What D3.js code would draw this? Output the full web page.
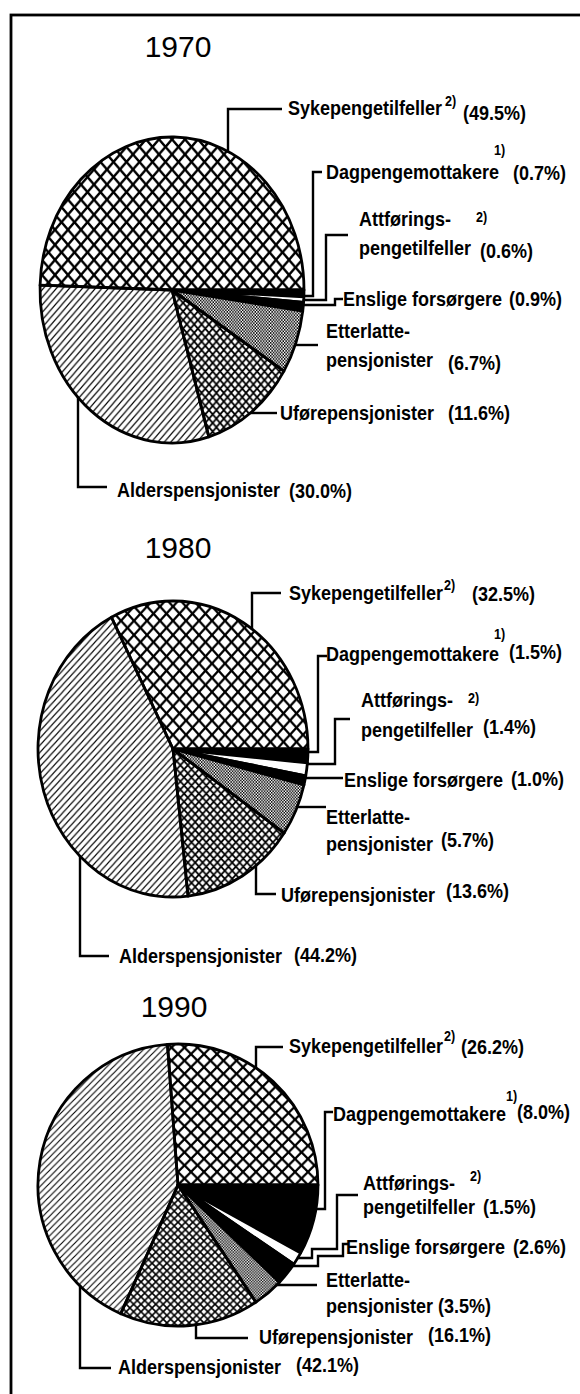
<!DOCTYPE html>
<html>
<head>
<meta charset='utf-8'>
<script src='https://d3js.org/d3.v7.min.js'></script>
<style>
  body { margin: 0; background: #fff; }
  svg text { font-family: "Liberation Sans", Arial, sans-serif; font-weight: bold; fill: #000; }
  svg text.title { font-weight: normal; font-size: 30px; }
  svg text.lab { font-size: 20px; }
  svg text.sup { font-size: 14px; }
</style>
</head>
<body>
<div id='chart'></div>
<script>
// ---- data ----
const years = ['1970', '1980', '1990'];
// clockwise from 3 o'clock
const categories = ['Dagpengemottakere', 'Attføringspengetilfeller', 'Enslige forsørgere',
  'Etterlattepensjonister', 'Uførepensjonister', 'Alderspensjonister', 'Sykepengetilfeller'];
const labelLines = [['Dagpengemottakere'], ['Attførings-', 'pengetilfeller'], ['Enslige forsørgere'],
  ['Etterlatte-', 'pensjonister'], ['Uførepensjonister'], ['Alderspensjonister'], ['Sykepengetilfeller']];
const footnotes = ['1)', '2)', '', '', '', '', '2)'];
const values1970 = [0.7, 0.6, 0.9, 6.7, 11.6, 30.0, 49.5];
const values1980 = [1.5, 1.4, 1.0, 5.7, 13.6, 44.2, 32.5];
const values1990 = [8.0, 1.5, 2.6, 3.5, 16.1, 42.1, 26.2];
const valuesByYear = { '1970': values1970, '1980': values1980, '1990': values1990 };
const fills = ['#000', '#fff', '#000', 'url(#dots)', 'url(#crossSmall)', 'url(#hatch)', 'url(#crossBig)'];

// ---- layout (label positions, leader elbows) ----
// t: text line positions, p: percent pos, s: footnote pos, l: leader points, e: how the leader meets the pie
const layout = {
  '1970': { title: [178, 57], pie: [172, 290, 132, 153], dy: 3, labels: [
    { t: [[326, 176]], p: [513, 177], s: [494, 152], l: [[322, 169], [313, 169], [313, 293]], e: 'h' },
    { t: [[359, 223], [359, 252]], p: [480, 255], s: [476, 219], l: [[348, 232], [326, 232], [326, 297]], e: 'h' },
    { t: [[343, 303]], p: [509, 303], l: [[343, 296], [335, 296], [335, 302]], e: 'h' },
    { t: [[326, 335], [326, 364]], p: [448, 367], l: [[318, 342]], e: 'h' },
    { t: [[280, 417]], p: [448, 417], l: [[277, 410]], e: 'h' },
    { t: [[117, 494]], p: [289, 495], l: [[107, 484], [78, 484]], e: 'vb' },
    { t: [[288, 112]], p: [463, 117], s: [445, 103], l: [[282, 106], [228, 106]], e: 'vt' }
  ]},
  '1980': { title: [178, 558], pie: [173, 749, 135, 148], dy: 3, labels: [
    { t: [[326, 658]], p: [509, 656], s: [494, 636], l: [[327, 653], [318, 653], [318, 749]], e: 'h' },
    { t: [[361, 704], [361, 734]], p: [483, 731], s: [468, 700], l: [[350, 716], [335, 716], [335, 761]], e: 'h' },
    { t: [[344, 784]], p: [511, 783], l: [[343, 775]], e: 'h' },
    { t: [[326, 821], [326, 848]], p: [441, 844], l: [[326, 804]], e: 'h' },
    { t: [[281, 899]], p: [446, 895], l: [[276, 891], [256, 891]], e: 'vb' },
    { t: [[119, 960]], p: [294, 959], l: [[109, 953], [80, 953]], e: 'vb' },
    { t: [[289, 597]], p: [472, 598], s: [444, 587], l: [[281, 590], [252, 590]], e: 'vt' }
  ]},
  '1990': { title: [174, 1017], pie: [178, 1185, 140, 141], dy: 0, labels: [
    { t: [[333, 1121]], p: [517, 1119], s: [506, 1101], l: [[333, 1112], [325, 1112], [325, 1209]], e: 'h' },
    { t: [[363, 1190], [363, 1214]], p: [483, 1214], s: [470, 1181], l: [[358, 1195], [337, 1195], [337, 1249], [312, 1249], [312, 1258]], e: 'h' },
    { t: [[346, 1254]], p: [513, 1254], l: [[348, 1244], [343, 1244], [343, 1256], [318, 1256], [318, 1266]], e: 'h' },
    { t: [[326, 1287], [326, 1313]], p: [438, 1313], l: [[317, 1285]], e: 'h' },
    { t: [[259, 1344]], p: [428, 1342], l: [[248, 1338], [196, 1338]], e: 'vb' },
    { t: [[118, 1374]], p: [296, 1372], l: [[111, 1368], [80, 1368]], e: 'vb' },
    { t: [[289, 1053]], p: [461, 1054], s: [444, 1041], l: [[283, 1047], [256, 1047]], e: 'vt' }
  ]}
};

const W = 580, H = 1394;
const svg = d3.select('#chart').append('svg').attr('width', W).attr('height', H);

// ---- fill patterns ----
const defs = svg.append('defs');
function pattern(id, size) {
  return defs.append('pattern').attr('id', id).attr('patternUnits', 'userSpaceOnUse')
    .attr('width', size).attr('height', size);
}
pattern('crossBig', 13).append('path').attr('d', 'M0,0L13,13M13,0L0,13')
  .attr('stroke', '#000').attr('stroke-width', 2.2);
pattern('crossSmall', 7.4).append('path').attr('d', 'M0,0L7.4,7.4M7.4,0L0,7.4')
  .attr('stroke', '#000').attr('stroke-width', 1.6);
pattern('hatch', 6.5).append('path').attr('d', 'M0,6.5L6.5,0M-1,1L1,-1M5.5,7.5L7.5,5.5')
  .attr('stroke', '#000').attr('stroke-width', 1.1);
const dots = pattern('dots', 2.8);
dots.append('rect').attr('width', 2.8).attr('height', 2.8).attr('fill', '#fff');
dots.append('rect').attr('x', 0).attr('y', 0).attr('width', 1.4).attr('height', 1.4).attr('fill', '#000');
dots.append('rect').attr('x', 1.4).attr('y', 1.4).attr('width', 1.4).attr('height', 1.4).attr('fill', '#000');

// frame
svg.append('rect').attr('x', 11).attr('y', 15).attr('width', 620).attr('height', 1420)
  .attr('fill', 'none').attr('stroke', '#000').attr('stroke-width', 2.8);

const pie = d3.pie().sort(null).value(d => d)
  .startAngle(Math.PI / 2).endAngle(Math.PI / 2 + 2 * Math.PI);

function label(g, cls, x, y, txt) {
  g.append('text').attr('class', cls)
    .attr('transform', `translate(${x},${y}) scale(0.9,1)`).text(txt);
}

years.forEach(year => {
  const L = layout[year];
  const [cx, cy, rx, ry] = L.pie;
  const dy = L.dy;
  const vals = valuesByYear[year];
  const g = svg.append('g');

  g.append('text').attr('class', 'title')
    .attr('x', L.title[0]).attr('y', L.title[1]).attr('text-anchor', 'middle').text(year);

  const arc = d3.arc().innerRadius(0).outerRadius(rx);
  g.append('g')
    .attr('transform', `translate(${cx},${cy}) scale(1,${ry / rx})`)
    .selectAll('path')
    .data(pie(vals))
    .join('path')
    .attr('d', arc)
    .attr('fill', (d, i) => fills[i])
    .attr('stroke', '#000')
    .attr('stroke-width', 2.8)
    .attr('stroke-linejoin', 'round')
    .attr('vector-effect', 'non-scaling-stroke');

  // edge of the (elliptic) pie
  const edgeX = y => cx + rx * Math.sqrt(Math.max(0, 1 - ((y - cy) / ry) ** 2));
  const edgeY = (x, s) => cy + s * ry * Math.sqrt(Math.max(0, 1 - ((x - cx) / rx) ** 2));

  L.labels.forEach((lb, i) => {
    const pts = lb.l.map(([x, y]) => [x, y + dy]);
    const last = pts[pts.length - 1];
    if (lb.e === 'h') pts.push([edgeX(last[1]) - 1, last[1]]);
    if (lb.e === 'vt') pts.push([last[0], edgeY(last[0], -1) + 1]);
    if (lb.e === 'vb') pts.push([last[0], edgeY(last[0], 1) - 1]);
    g.append('path').attr('d', d3.line()(pts))
      .attr('fill', 'none').attr('stroke', '#000').attr('stroke-width', 2.4);

    labelLines[i].forEach((txt, j) => label(g, 'lab', lb.t[j][0], lb.t[j][1] + dy, txt));
    label(g, 'lab', lb.p[0], lb.p[1] + dy, '(' + vals[i].toFixed(1) + '%)');
    if (lb.s && footnotes[i]) label(g, 'sup', lb.s[0], lb.s[1] + dy, footnotes[i]);
  });
});
</script>
</body>
</html>
